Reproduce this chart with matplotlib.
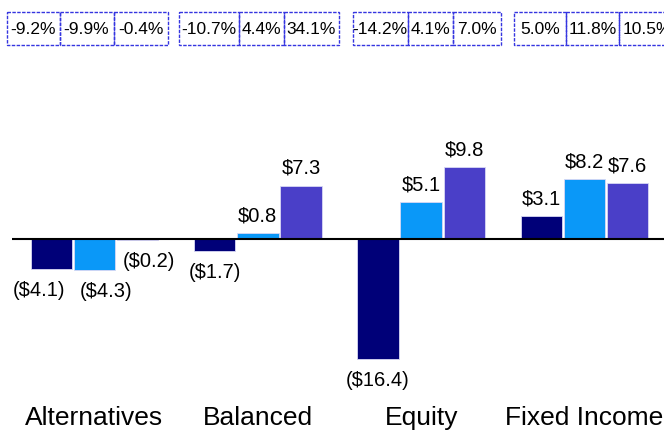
import numpy as np
import matplotlib.pyplot as plt
from matplotlib.patches import Rectangle

plt.rcParams['font.family'] = ['Liberation Sans', 'DejaVu Sans']

categories = ["Alternatives", "Balanced", "Equity", "Fixed Income"]
s1 = [-4.1, -1.7, -16.4, 3.1]
s2 = [-4.3, 0.8, 5.1, 8.2]
s3 = [-0.2, 7.3, 9.8, 7.6]
pct = [["-9.2%", "-9.9%", "-0.4%"],
       ["-10.7%", "4.4%", "34.1%"],
       ["-14.2%", "4.1%", "7.0%"],
       ["5.0%", "11.8%", "10.5%"]]

colors = ["#000078", "#0a98f8", "#4a3fc8"]

def fmt(v):
    if v < 0:
        return "(${:.1f})".format(-v)
    return "${:.1f}".format(v)

fig = plt.figure(figsize=(6.64, 4.30), dpi=100)
ax = fig.add_axes([12/664, 30/430, 652/664, 300/430])

x = np.arange(len(categories))
w = 0.264
series = [s1, s2, s3]
# small sideways nudges for crowded labels (points)
nudge = [[-9, 0, 0, 0], [8, 0, 0, 0], [8, 0, 0, 0]]
for i, s in enumerate(series):
    pos = x + (i - 1) * w
    ax.bar(pos, s, width=w - 0.01, color=colors[i], edgecolor="#d8d8f4",
           linewidth=0.6)
    for j, (p, v) in enumerate(zip(pos, s)):
        if v >= 0:
            ax.annotate(fmt(v), (p, v), xytext=(nudge[i][j], 5.5),
                        textcoords="offset points", ha="center", va="bottom",
                        fontsize=14.5)
        else:
            ax.annotate(fmt(v), (p, v), xytext=(nudge[i][j], -8.5),
                        textcoords="offset points", ha="center", va="top",
                        fontsize=14.5)

ax.axhline(0, color="black", linewidth=1.5)
ax.set_xlim(-0.505, 3.487)
ax.set_ylim(-21.99, 18.99)
ax.set_xticks(x, categories, fontsize=19)
ax.tick_params(axis="x", length=0, pad=4.5)
ax.set_yticks([])
for sp in ax.spines.values():
    sp.set_visible(False)

# percentage row on top
tab = fig.add_axes([0, 0, 1, 1])
tab.set_xlim(0, 664)
tab.set_ylim(430, 0)
tab.axis("off")
edges = [[7, 59.5, 113.5, 168],
         [178.5, 238.5, 284, 339],
         [352.5, 407.5, 453, 501],
         [513.5, 566, 619, 675]]
top, bot = 12, 45
for g, row in enumerate(pct):
    e = edges[g]
    for k, txt in enumerate(row):
        tab.add_patch(Rectangle((e[k], top), e[k + 1] - e[k], bot - top,
                                fill=False, edgecolor="#3535e0", linewidth=1,
                                linestyle=(0, (2.5, 1)), clip_on=False))
        tab.text((e[k] + e[k + 1]) / 2, (top + bot) / 2 + 1.5, txt,
                 ha="center", va="center", fontsize=12.5)

fig.savefig("out.png", dpi=100)
